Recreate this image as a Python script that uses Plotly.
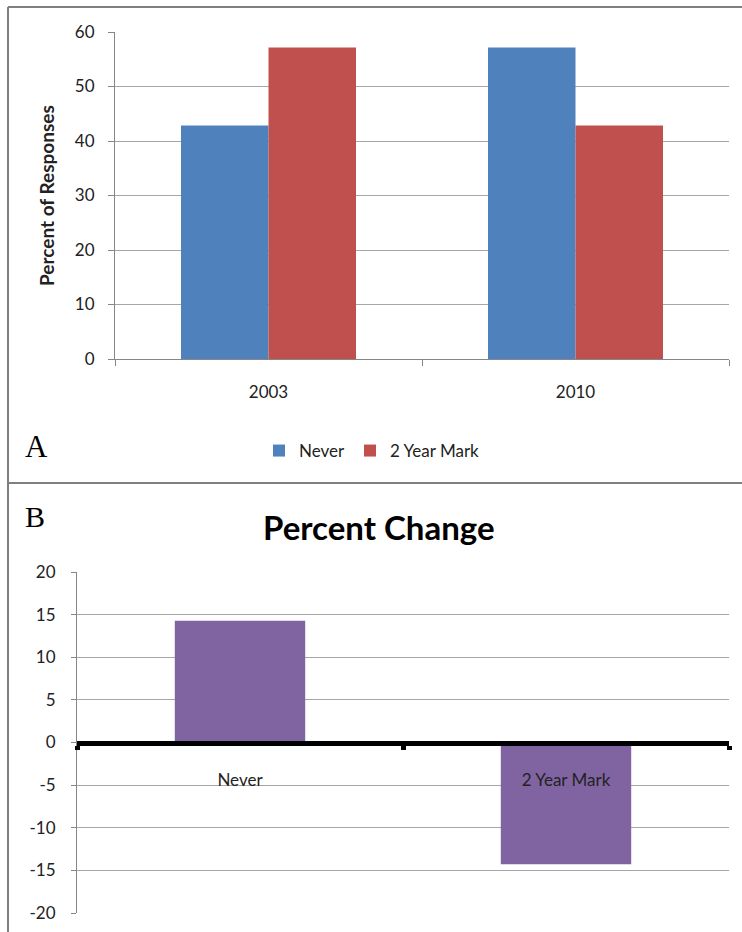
import plotly.graph_objects as go

# Panel A: share of responses per survey year
years = ["2003", "2010"]
never_pct = [42.86, 57.14]
two_year_pct = [57.14, 42.86]
pct_ticks = [0, 10, 20, 30, 40, 50, 60]

# Panel B: percent change between surveys
change_categories = ["Never", "2 Year Mark"]
change_values = [14.28, -14.28]
change_ticks = [-20, -15, -10, -5, 0, 5, 10, 15, 20]

W, H = 742, 932
FONT = "Lato"
GRID = "#A6A6A6"
AXIS = "#868686"
TICK_SIZE = 17


def px_x(p):
    return p / W


def px_y(p):
    return 1 - p / H


fig = go.Figure()

fig.add_trace(go.Bar(x=years, y=never_pct, name="Never", marker_color="#4F81BD",
                     marker_line_width=0, xaxis="x", yaxis="y"))
fig.add_trace(go.Bar(x=years, y=two_year_pct, name="2 Year Mark", marker_color="#C0504D",
                     marker_line_width=0, xaxis="x", yaxis="y"))
fig.add_trace(go.Bar(x=change_categories, y=change_values, name="Percent Change",
                     marker_color="#8064A2", marker_line_width=0, showlegend=False,
                     width=0.40, xaxis="x2", yaxis="y2"))

domA_y = [px_y(359), px_y(32)]
domB_y = [px_y(913), px_y(572)]

fig.update_layout(
    width=W, height=H,
    margin=dict(l=0, r=0, t=0, b=0, autoexpand=False),
    paper_bgcolor="white", plot_bgcolor="white",
    font=dict(family=FONT, size=TICK_SIZE, color="#222222"),
    barmode="group", bargap=0.43, bargroupgap=0,
    xaxis=dict(domain=[px_x(115), px_x(729)], anchor="y", showgrid=False, automargin=False,
               showline=True, linecolor=AXIS, linewidth=1,
               ticks="outside", tickson="boundaries", ticklen=6, tickcolor=AXIS,
               ticklabelstandoff=18, fixedrange=True),
    yaxis=dict(domain=domA_y, anchor="x", range=[0, 60], automargin=False,
               tickvals=pct_ticks, ticktext=[str(v) for v in pct_ticks],
               showgrid=True, gridcolor=GRID, gridwidth=1,
               showline=True, linecolor=AXIS, linewidth=1,
               ticks="outside", ticklen=6, tickcolor=AXIS, ticklabelstandoff=10,
               zeroline=False),
    xaxis2=dict(domain=[px_x(77), px_x(729)], anchor="free", automargin=False,
                position=(domB_y[0] + domB_y[1]) / 2, showgrid=False,
                showline=True, linecolor="black", linewidth=5,
                ticks="outside", tickson="boundaries", ticklen=4, tickwidth=5,
                tickcolor="black", ticklabelstandoff=20, fixedrange=True),
    yaxis2=dict(domain=domB_y, anchor="x2", range=[-20, 20], automargin=False,
                tickvals=change_ticks, ticktext=[str(v) for v in change_ticks],
                showgrid=True, gridcolor=GRID, gridwidth=1,
                showline=True, linecolor=AXIS, linewidth=1,
                ticks="outside", ticklen=5, tickcolor=AXIS, ticklabelstandoff=12,
                zeroline=False),
    legend=dict(orientation="h", x=px_x(259), y=px_y(451), xanchor="left", yanchor="middle",
                font=dict(size=TICK_SIZE), itemwidth=30, bgcolor="rgba(0,0,0,0)",
                traceorder="normal"),
    showlegend=True,
)

# Panel frames
frame = dict(type="line", xref="paper", yref="paper", line=dict(color="#7F7F7F", width=2))
fig.add_shape(**frame, x0=px_x(8), x1=1.0, y0=px_y(7), y1=px_y(7))
fig.add_shape(**frame, x0=px_x(8), x1=1.0, y0=px_y(483), y1=px_y(483))
fig.add_shape(**frame, x0=px_x(8), x1=px_x(8), y0=0, y1=px_y(7))

# Axis title for panel A
fig.add_annotation(text="<b>Percent of Responses</b>", x=px_x(47), y=px_y(195),
                   xref="paper", yref="paper", xanchor="center", yanchor="middle",
                   textangle=-90, showarrow=False,
                   font=dict(family=FONT, size=19, color="#222222"))

# Panel letters and title
fig.add_annotation(text="A", x=px_x(23), y=px_y(446), xref="paper", yref="paper",
                   xanchor="left", yanchor="middle", showarrow=False,
                   font=dict(family="Liberation Serif", size=31, color="black"))
fig.add_annotation(text="B", x=px_x(23), y=px_y(516), xref="paper", yref="paper",
                   xanchor="left", yanchor="middle", showarrow=False,
                   font=dict(family="Liberation Serif", size=30, color="black"))
fig.add_annotation(text="<b>Percent Change</b>", x=px_x(379), y=px_y(527),
                   xref="paper", yref="paper", xanchor="center", yanchor="middle",
                   showarrow=False, font=dict(family=FONT, size=33, color="black"))

fig.write_html("out.html")
